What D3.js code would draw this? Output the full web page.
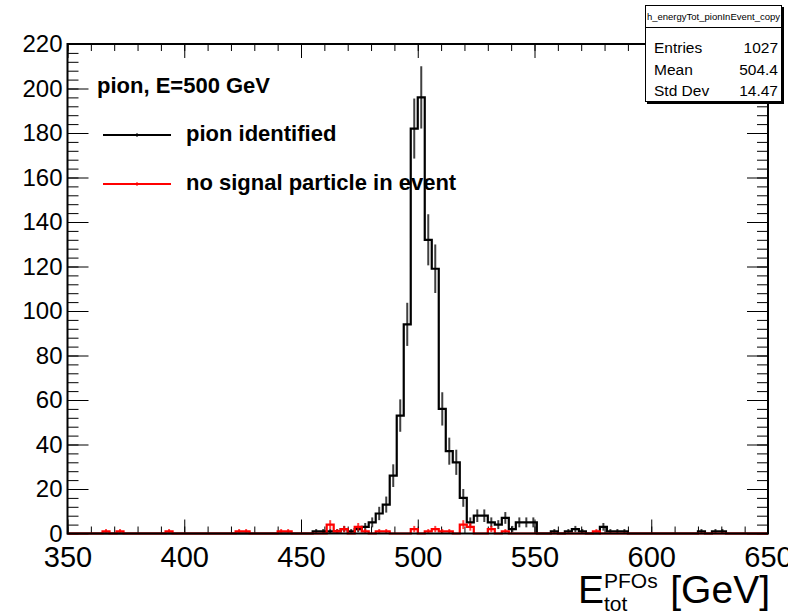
<!DOCTYPE html>
<html>
<head>
<meta charset="utf-8">
<script src="https://cdn.jsdelivr.net/npm/d3@7"></script>
<style>
  body { margin: 0; background: #fff; }
  svg { display: block; }
  text { font-family: "Liberation Sans", Helvetica, Arial, sans-serif; }
</style>
</head>
<body>
<div id="chart"></div>
<script>
// histogram binning: 100 bins of 3 GeV from 350 to 650
const binLow = 350;
const binWidth = 3;

// bin contents, "pion identified"
const pionCounts = [
  0, 0, 0, 0, 0, 0, 0, 0, 0, 0,
  0, 0, 0, 0, 0, 0, 0, 0, 0, 0,
  0, 0, 0, 0, 0, 0, 0, 0, 0, 0,
  0, 0, 0, 0, 0, 1, 1, 1, 1, 2,
  1, 2, 3, 5, 9, 13, 26, 53, 94, 182,
  196, 132, 119, 56, 37, 32, 16, 5, 8, 8,
  5, 4, 7, 2, 5, 5, 5, 0, 0, 1,
  0, 1, 2, 1, 0, 0, 3, 1, 1, 1,
  0, 0, 0, 0, 0, 0, 0, 0, 0, 0,
  1, 0, 1, 1, 0, 0, 0, 0, 0, 0
];

// bin contents, "no signal particle in event"
const noSignalCounts = [
  0, 0, 0, 0, 0, 1, 0, 1, 0, 0,
  0, 0, 0, 0, 1, 0, 0, 0, 0, 0,
  0, 0, 0, 0, 1, 1, 0, 0, 0, 0,
  1, 1, 0, 0, 0, 0, 0, 4, 1, 2,
  0, 3, 1, 0, 1, 1, 0, 0, 0, 2,
  0, 1, 2, 1, 1, 0, 4, 3, 0, 0,
  2, 0, 1, 0, 0, 0, 0, 0, 0, 0,
  0, 0, 0, 0, 0, 1, 0, 0, 0, 0,
  0, 0, 0, 0, 0, 0, 0, 0, 0, 0,
  0, 0, 0, 0, 0, 0, 0, 0, 0, 0
];

const xTickValues = [350, 400, 450, 500, 550, 600, 650];
const yTickValues = [0, 20, 40, 60, 80, 100, 120, 140, 160, 180, 200, 220];
const legendLabels = ["pion identified", "no signal particle in event"];
const legendColors = ["#000000", "#ff0000"];
const statsTitle = "h_energyTot_pionInEvent_copy";
const statsLabels = ["Entries", "Mean", "Std Dev"];
const statsValues = ["1027", "504.4", "14.47"];

const width = 788;
const height = 613;
const frame = { left: 67.5, right: 768, top: 44, bottom: 533.5 };

const x = d3.scaleLinear().domain([350, 650]).range([frame.left, frame.right]);
const y = d3.scaleLinear().domain([0, 220]).range([frame.bottom, frame.top]);

const svg = d3.select('#chart')
  .append('svg')
  .attr('width', width)
  .attr('height', height)
  .style('background', '#fff');

// axes, ticks point inward like ROOT
function styleAxis(g) {
  g.select('.domain').remove();
  g.selectAll('.tick line').attr('stroke', '#000').attr('stroke-width', 1);
}

const xMinor = d3.range(350, 651, 10);
const yMinor = d3.range(0, 221, 4);

svg.append('g')
  .attr('transform', `translate(0,${frame.bottom})`)
  .call(d3.axisBottom(x).tickValues(xMinor).tickSize(-7).tickFormat(''))
  .call(styleAxis);

const xAxis = svg.append('g')
  .attr('transform', `translate(0,${frame.bottom})`)
  .call(d3.axisBottom(x).tickValues(xTickValues).tickSize(-14).tickPadding(13))
  .call(styleAxis);
xAxis.selectAll('text')
  .attr('font-size', 29)
  .attr('fill', '#000');

svg.append('g')
  .attr('transform', `translate(0,${frame.top})`)
  .call(d3.axisTop(x).tickValues(xMinor).tickSize(-7).tickFormat(''))
  .call(styleAxis);
svg.append('g')
  .attr('transform', `translate(0,${frame.top})`)
  .call(d3.axisTop(x).tickValues(xTickValues).tickSize(-14).tickFormat(''))
  .call(styleAxis);

svg.append('g')
  .attr('transform', `translate(${frame.left},0)`)
  .call(d3.axisLeft(y).tickValues(yMinor).tickSize(-11).tickFormat(''))
  .call(styleAxis);

const yAxis = svg.append('g')
  .attr('transform', `translate(${frame.left},0)`)
  .call(d3.axisLeft(y).tickValues(yTickValues).tickSize(-21).tickPadding(5))
  .call(styleAxis);
yAxis.selectAll('text')
  .attr('font-size', 24)
  .attr('fill', '#000');

svg.append('g')
  .attr('transform', `translate(${frame.right},0)`)
  .call(d3.axisRight(y).tickValues(yMinor).tickSize(-11).tickFormat(''))
  .call(styleAxis);
svg.append('g')
  .attr('transform', `translate(${frame.right},0)`)
  .call(d3.axisRight(y).tickValues(yTickValues).tickSize(-21).tickFormat(''))
  .call(styleAxis);

// histograms
function drawHist(counts, color) {
  const pts = counts.map((v, i) => [binLow + i * binWidth, v]);
  pts.push([binLow + counts.length * binWidth, counts[counts.length - 1]]);

  const line = d3.line()
    .x(d => x(d[0]))
    .y(d => y(d[1]))
    .curve(d3.curveStepAfter);

  svg.append('path')
    .datum(pts)
    .attr('d', line)
    .attr('fill', 'none')
    .attr('stroke', color)
    .attr('stroke-width', 2.2);

  const bins = counts.map((v, i) => ({ c: binLow + (i + 0.5) * binWidth, v: v }))
    .filter(d => d.v > 0);

  svg.append('g')
    .selectAll('line')
    .data(bins)
    .enter()
    .append('line')
    .attr('x1', d => x(d.c))
    .attr('x2', d => x(d.c))
    .attr('y1', d => y(d.v - Math.sqrt(d.v)))
    .attr('y2', d => y(d.v + Math.sqrt(d.v)))
    .attr('stroke', color)
    .attr('stroke-opacity', 0.75)
    .attr('stroke-width', 2);
}

drawHist(pionCounts, legendColors[0]);
drawHist(noSignalCounts, legendColors[1]);

// frame
svg.append('rect')
  .attr('x', frame.left)
  .attr('y', frame.top)
  .attr('width', frame.right - frame.left)
  .attr('height', frame.bottom - frame.top)
  .attr('fill', 'none')
  .attr('stroke', '#000')
  .attr('stroke-width', 2);

// legend
svg.append('text')
  .attr('x', 97)
  .attr('y', 93)
  .attr('font-size', 22)
  .attr('font-weight', 'bold')
  .text('pion, E=500 GeV');

const legend = svg.append('g')
  .selectAll('g')
  .data(legendLabels)
  .enter()
  .append('g')
  .attr('transform', (d, i) => `translate(0,${135 + i * 49})`);

legend.append('line')
  .attr('x1', 103).attr('x2', 171)
  .attr('y1', 0).attr('y2', 0)
  .attr('stroke', (d, i) => legendColors[i])
  .attr('stroke-width', 2);

legend.append('line')
  .attr('x1', 137).attr('x2', 137)
  .attr('y1', -2).attr('y2', 2)
  .attr('stroke', (d, i) => legendColors[i])
  .attr('stroke-width', 1);

legend.append('text')
  .attr('x', 186)
  .attr('y', 6)
  .attr('font-size', 22)
  .attr('font-weight', 'bold')
  .text(d => d);

// x-axis title: E with stacked PFOs / tot, then [GeV]
const titleG = svg.append('g');
titleG.append('text')
  .attr('x', 578)
  .attr('y', 603)
  .attr('font-size', 39)
  .text('E');
titleG.append('text')
  .attr('x', 604)
  .attr('y', 588)
  .attr('font-size', 21)
  .text('PFOs');
titleG.append('text')
  .attr('x', 604)
  .attr('y', 611)
  .attr('font-size', 21)
  .text('tot');
titleG.append('text')
  .attr('x', 770)
  .attr('y', 603)
  .attr('text-anchor', 'end')
  .attr('font-size', 39)
  .text('[GeV]');

// stats box
const stats = svg.append('g');
stats.append('rect')
  .attr('x', 647).attr('y', 7)
  .attr('width', 137).attr('height', 97)
  .attr('fill', '#000');
stats.append('rect')
  .attr('x', 645.5).attr('y', 5.5)
  .attr('width', 136).attr('height', 96)
  .attr('fill', '#fff')
  .attr('stroke', '#000')
  .attr('stroke-width', 1);
stats.append('line')
  .attr('x1', 645.5).attr('x2', 781.5)
  .attr('y1', 27.5).attr('y2', 27.5)
  .attr('stroke', '#000');
stats.append('text')
  .attr('x', 713.5).attr('y', 20)
  .attr('text-anchor', 'middle')
  .attr('font-size', 9.5)
  .text(statsTitle);

const rows = stats.selectAll('g.row')
  .data(statsLabels)
  .enter()
  .append('g')
  .attr('class', 'row')
  .attr('transform', (d, i) => `translate(0,${53 + i * 21.5})`);
rows.append('text')
  .attr('x', 654)
  .attr('font-size', 15.5)
  .text(d => d);
rows.append('text')
  .attr('x', 778)
  .attr('text-anchor', 'end')
  .attr('font-size', 15.5)
  .text((d, i) => statsValues[i]);
</script>
</body>
</html>
